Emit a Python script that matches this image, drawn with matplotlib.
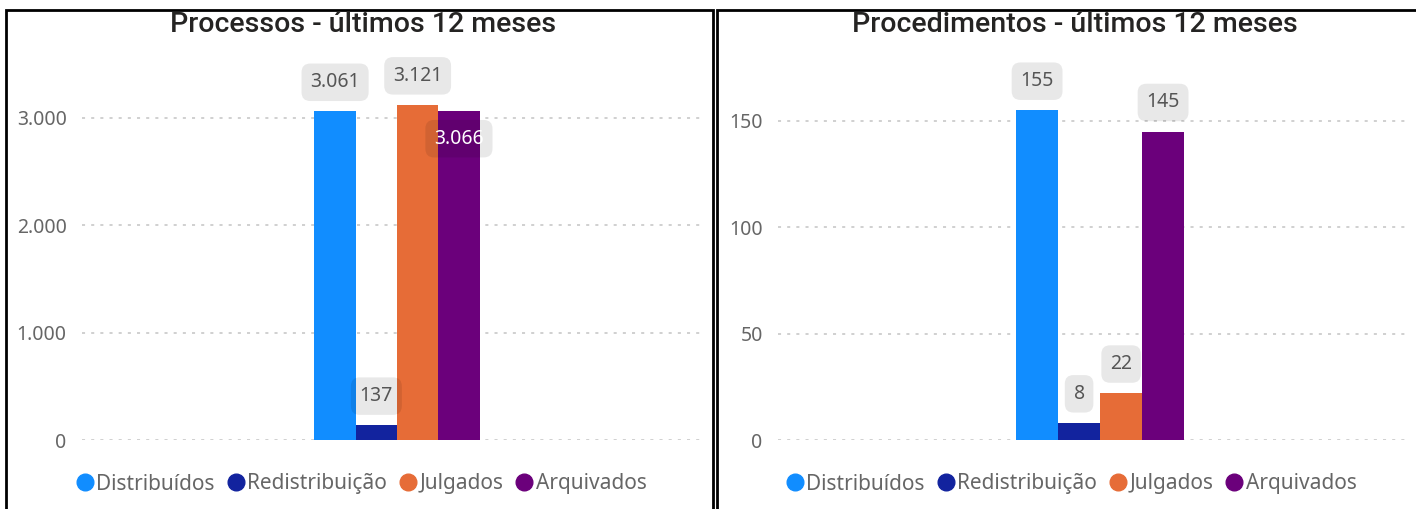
import matplotlib
matplotlib.use("Agg")
import matplotlib.pyplot as plt
from matplotlib.lines import Line2D
from matplotlib.patches import Rectangle
from matplotlib.ticker import FuncFormatter

# categorias e valores
categorias = ["Distribuídos", "Redistribuição", "Julgados", "Arquivados"]
cores = ["#118DFF", "#12239E", "#E66C37", "#6B007B"]

processos = [3061, 137, 3121, 3066]
procedimentos = [155, 8, 22, 145]

ticks_processos = [0, 1000, 2000, 3000]
ticks_procedimentos = [0, 50, 100, 150]

titulos = ["Processos - últimos 12 meses", "Procedimentos - últimos 12 meses"]

plt.rcParams["font.family"] = ["Noto Sans", "DejaVu Sans"]


def fmt(v, pos=None):
    return f"{int(v):,}".replace(",", ".")


fig = plt.figure(figsize=(14.16, 5.09), dpi=100)

# molduras dos painéis
fig.patches.append(Rectangle((6 / 1416, -0.01), 707 / 1416, 1 - 10 / 509 + 0.01,
                             transform=fig.transFigure, fill=False, lw=2, ec="black"))
fig.patches.append(Rectangle((717 / 1416, -0.01), 700 / 1416, 1 - 10 / 509 + 0.01,
                             transform=fig.transFigure, fill=False, lw=2, ec="black"))

ax1 = fig.add_axes([82 / 1416, 69 / 509, 623 / 1416, 322 * 1.1 / 509])
ax2 = fig.add_axes([778 / 1416, 69 / 509, 632 / 1416, 319 * 1.1 / 509])

xs = [-1.5, -0.5, 0.5, 1.5]


def desenha(ax, valores, ticks, ymax, xlim, dentro=None):
    ax.bar(xs, valores, width=1.0, color=cores, zorder=2)
    ax.set_xlim(*xlim)
    ax.set_ylim(0, ymax)
    ax.set_yticks(ticks)
    ax.yaxis.set_major_formatter(FuncFormatter(fmt))
    ax.set_xticks([])
    for s in ax.spines.values():
        s.set_visible(False)
    ax.tick_params(axis="y", length=0, pad=11, labelsize=14, labelcolor="#666666")
    ax.grid(axis="y", color="#c4c4c4", linestyle=(0, (2, 4)), lw=1.1, zorder=0)
    for i, (x, v) in enumerate(zip(xs, valores)):
        dy, cor = (21, "#555555")
        if dentro is not None and i == dentro:
            dy, cor = (-20, "white")
        ax.annotate(fmt(v), (x, v), xytext=(0, dy), textcoords="offset points",
                    ha="center", va="center", fontsize=14, color=cor, zorder=4,
                    bbox=dict(boxstyle="round,pad=0.45,rounding_size=0.45",
                              fc=(0, 0, 0, 0.09), ec="none"))


desenha(ax1, processos, ticks_processos, 3300, (-7.63, 7.46), dentro=3)
desenha(ax2, procedimentos, ticks_procedimentos, 165, (-7.67, 7.38))

fig.text(363 / 1416, 1 - 25 / 509, titulos[0], ha="center", va="center",
         fontsize=20.5, fontweight="medium", color="#252423", family="Roboto")
fig.text(1075 / 1416, 1 - 25 / 509, titulos[1], ha="center", va="center",
         fontsize=20.5, fontweight="medium", color="#252423", family="Roboto")

handles = [Line2D([], [], marker="o", ls="none", color=c, markersize=12) for c in cores]
for cx in [360, 1070]:
    fig.legend(handles, categorias, loc="center", bbox_to_anchor=(cx / 1416, 1 - 484 / 509),
               ncol=4, frameon=False, fontsize=15, labelcolor="#666666",
               handletextpad=0.0, columnspacing=0.45, handlelength=1.1)

fig.savefig("out.png", dpi=100)
